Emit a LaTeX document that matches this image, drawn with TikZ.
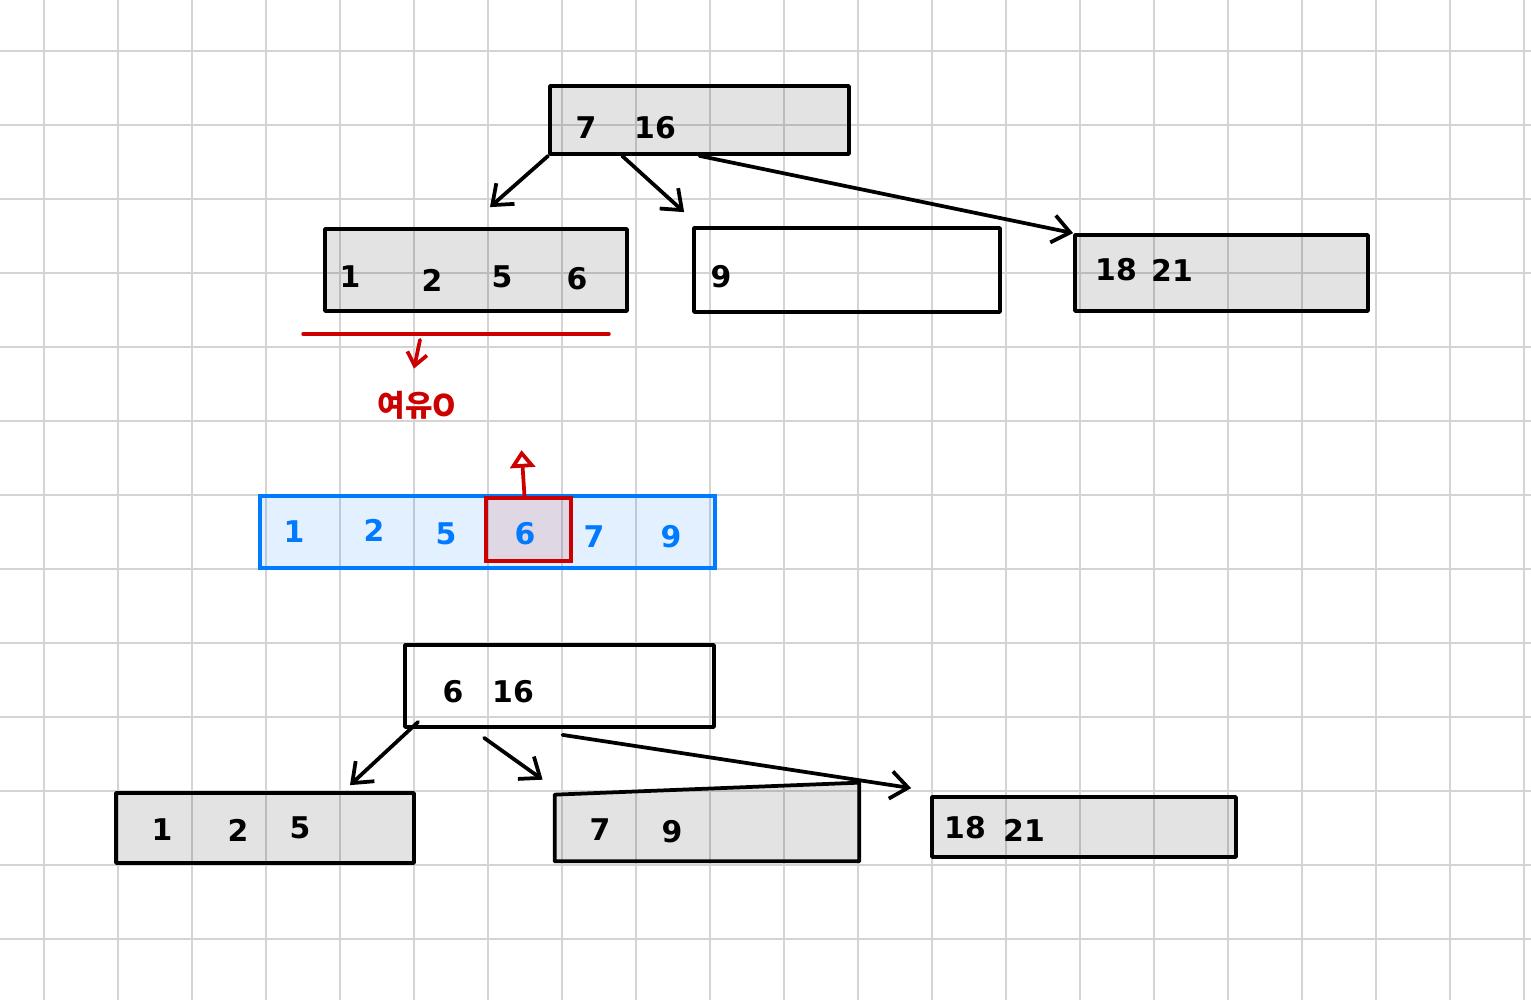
\documentclass[tikz,border=0pt]{standalone}
\usepackage{fontspec}
\setmainfont{DejaVu Sans}
\newfontfamily\kor{Noto Sans CJK KR}
\usetikzlibrary{arrows.meta}
\definecolor{gridcolor}{RGB}{212,212,212}
\definecolor{penblue}{RGB}{0,122,255}
\definecolor{penred}{RGB}{204,0,0}
\tikzset{
  sz/.style 2 args={minimum width=#1*0.2mm, minimum height=#2*0.2mm},
  keyline/.style={draw, line width=0.75mm, line join=round, fill=black, fill opacity=0.11},
  keybox/.style={keyline, inner sep=0pt},
  freebox/.style={draw, line width=0.75mm, line join=round, inner sep=0pt},
  bluebox/.style={draw=penblue, line width=0.75mm, fill=penblue, fill opacity=0.11, inner sep=0pt},
  pickbox/.style={draw=penred, line width=0.75mm, fill=penred, fill opacity=0.1, inner sep=0pt},
  num/.style={font=\fontsize{17}{19}\selectfont\bfseries, inner sep=0pt},
  bnum/.style={num, text=penblue},
  gridline/.style={draw=gridcolor, line width=0.4mm},
  arr/.style={line width=0.75mm, line cap=round, -{Straight Barb[length=3.5mm,width=5.5mm]}},
  redln/.style={draw=penred, line width=0.75mm, line cap=round},
  redarr/.style={redln, -{Straight Barb[length=2.5mm,width=4mm]}},
  uparr/.style={redln, -{Triangle[open,length=3.5mm,width=5mm]}},
  rednote/.style={font=\kor\fontsize{17}{19}\selectfont\bfseries, text=penred, inner sep=0pt},
}
\begin{document}
\begin{tikzpicture}[x=0.2mm, y=-0.2mm]
\useasboundingbox (0,0) rectangle (1531,1000);
\fill[white] (0,0) rectangle (1531,1000);
% grid paper
\foreach \gx in {0,...,20}
  \draw[gridline] (44+74*\gx,0) -- (44+74*\gx,1000);
\foreach \gy in {0,...,12}
  \draw[gridline] (0,51+74*\gy) -- (1531,51+74*\gy);

% before the split
\node[keybox, sz={299}{68}] (root) at (699.5,120) {};
\node[keybox, sz={302}{82}] (l1) at (476,270) {};
\node[freebox, sz={306}{84}] (m1) at (847,270) {};
\node[keybox, sz={293}{76}] (r1) at (1221.5,273) {};
\foreach \kx/\ky/\kt [count=\ki] in {586/128/7, 655/128/16,
    350/277/1, 432/280/2, 502/277/5, 577/279/6, 721/277/9,
    1116/270/18, 1172/270/21}
  \node[num] (k\ki) at (\kx,\ky) {\kt};
\draw[arr] (root.south west) -- ([shift={(14,-20)}]l1.north);
\draw[arr] ([shift={(74,0)}]root.south west) -- ([shift={(-8,-14)}]m1.north west);
\draw[arr] (root.south) -- (r1.north west);

% overflow note
\node[rednote] (note) at (417,405) {여유O};
\draw[redln] ([shift={(-20,21)}]l1.south west) -- ([shift={(-20,21)}]l1.south east);
\draw[redarr] ([shift={(-56,27)}]l1.south) -- ([shift={(-3,-22)}]note.north);

% merged keys
\node[bluebox, sz={455}{72}] (arr) at (487.5,532) {};
\node[pickbox, sz={85}{63}] (mid) at (528.5,529.5) {};
\foreach \kx/\ky/\kt [count=\ki] in {294/532/1, 374/530/2, 446/534/5,
    525/534/6, 594/537/7, 671/537/9}
  \node[bnum] (a\ki) at (\kx,\ky) {\kt};
\draw[uparr] ([xshift=-0.8mm]mid.north) -- ++(-3,-46);

% after the split
\node[freebox, sz={309}{82}] (broot) at (559.5,686) {};
\node[keybox, sz={298}{70}] (b1) at (265,828) {};
\node[inner sep=0pt, sz={304}{78}] (b2) at (707,822) {};
\filldraw[keyline] ([yshift=-2.4mm]b2.north west) -- (b2.north east)
  -- (b2.south east) -- (b2.south west) -- cycle;
\node[keybox, sz={304}{60}] (b3) at (1084,827) {};
\foreach \kx/\ky/\kt [count=\ki] in {453/692/6, 513/692/16,
    162/830/1, 238/830/2, 300/828/5, 600/830/7, 672/832/9,
    965/828/18, 1024/830/21}
  \node[num] (n\ki) at (\kx,\ky) {\kt};
\draw[arr] ([shift={(15,-7)}]broot.south west) -- ([shift={(85,-6)}]b1.north);
\draw[arr] ([shift={(81,9)}]broot.south west) -- ([shift={(-12,-3)}]b2.north west);
\draw[arr] ([shift={(3,6)}]broot.south) -- ([shift={(-19,-7)}]b3.north west);
\end{tikzpicture}
\end{document}
